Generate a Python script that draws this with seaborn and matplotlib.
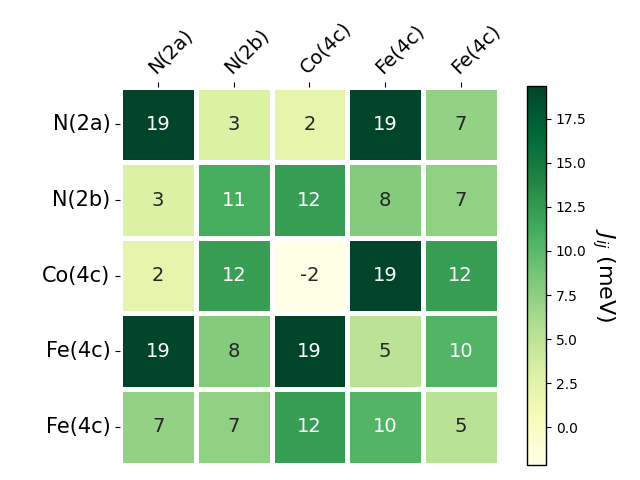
import numpy as np
import pandas as pd
import seaborn as sns
import matplotlib
matplotlib.use("Agg")
import matplotlib.pyplot as plt

labels = ["N(2a)", "N(2b)", "Co(4c)", "Fe(4c)", "Fe(4c)"]
row_n2a = [19.36, 3.1, 2.2, 19.36, 7.2]
row_n2b = [3.1, 11.0, 12.2, 8.0, 7.4]
row_co4c = [2.2, 12.2, -2.15, 19.36, 12.2]
row_fe4c_1 = [19.36, 8.0, 19.36, 5.0, 10.4]
row_fe4c_2 = [7.2, 7.4, 12.2, 10.4, 5.2]

data = np.array([row_n2a, row_n2b, row_co4c, row_fe4c_1, row_fe4c_2])

fig = plt.figure(figsize=(6.4, 4.8), dpi=100)
ax = fig.add_axes([0.188, 0.032, 0.591, 0.7875])
cax = fig.add_axes([0.823, 0.031, 0.030, 0.790])

sns.heatmap(data, ax=ax, cbar_ax=cax, cmap="YlGn", annot=True, fmt=".0f",
            annot_kws={"fontsize": 14}, linewidths=2.5, linecolor="white",
            xticklabels=labels, yticklabels=labels, square=False)

ax.xaxis.tick_top()
ax.set_xticklabels(labels, rotation=45, ha="left", fontsize=14,
                   rotation_mode="anchor")
ax.set_yticklabels(labels, rotation=0, fontsize=15)

cbar = ax.collections[0].colorbar
cbar.outline.set_visible(True)
cbar.outline.set_edgecolor("black")
cbar.outline.set_linewidth(1.0)
cbar.set_ticks([0, 2.5, 5, 7.5, 10, 12.5, 15, 17.5])
cbar.ax.set_yticklabels(["0.0", "2.5", "5.0", "7.5", "10.0", "12.5", "15.0", "17.5"])
cbar.ax.tick_params(labelsize=10)
cbar.set_label("$J_{ij}$ (meV)", rotation=270, fontsize=16, labelpad=22)

fig.savefig("out.png", dpi=100)
